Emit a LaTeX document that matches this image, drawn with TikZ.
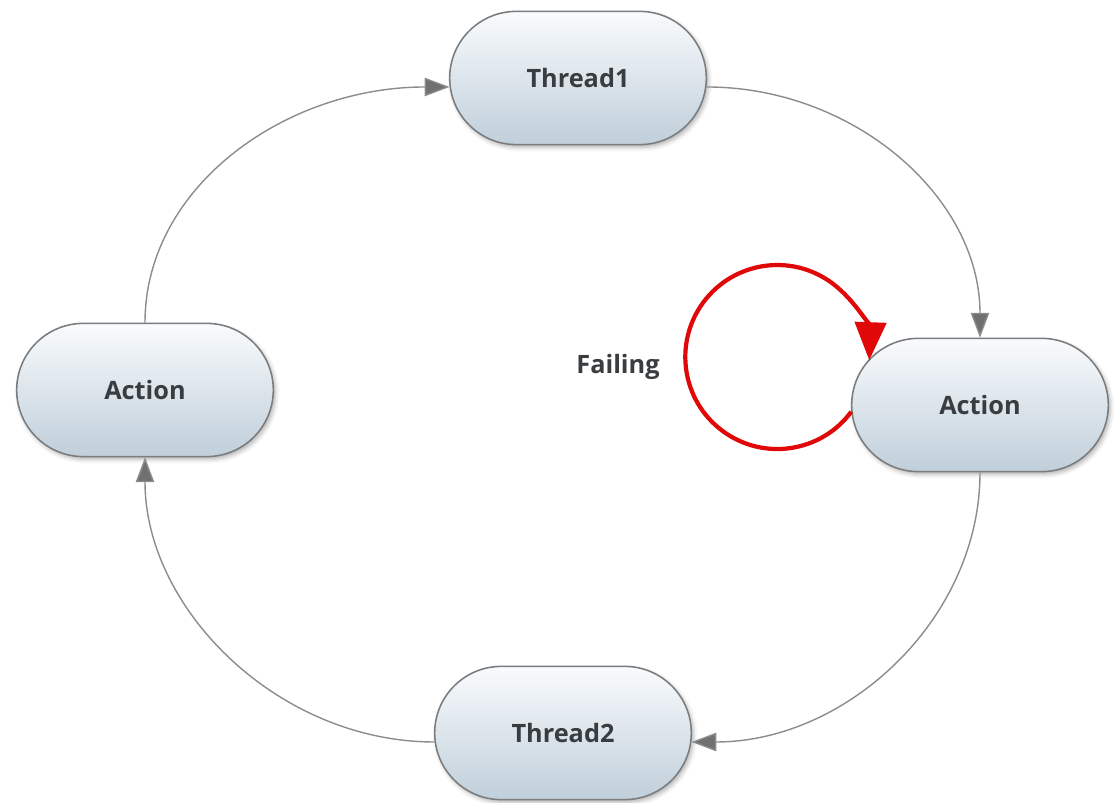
\documentclass[tikz,border=0pt]{standalone}
\usepackage{fontspec}
\setmainfont{Open Sans}
\usetikzlibrary{shapes.misc,arrows.meta,shadows.blur}
\definecolor{capTop}{HTML}{F9FBFD}
\definecolor{capBot}{HTML}{C0CFDA}
\definecolor{capRim}{HTML}{7A7C7E}
\definecolor{inkDark}{HTML}{3A3D40}
\definecolor{wireGrey}{HTML}{8C8C8C}
\definecolor{tipGrey}{HTML}{707070}
\definecolor{failRed}{HTML}{E00808}

\begin{document}
\begin{tikzpicture}[
    font=\fontsize{18}{22}\selectfont\bfseries,
    % glossy capsule: white on top fading to a pale steel blue, thin grey rim, soft shadow
    capsule/.style={rounded rectangle, draw=capRim, line width=1.1pt,
                    top color=capTop, bottom color=capBot, text=inkDark,
                    minimum width=6.65cm, minimum height=3.33cm,
                    blur shadow={shadow xshift=1.5pt, shadow yshift=-2pt,
                                 shadow opacity=30, shadow blur radius=3pt}},
    % the cycle itself: thin grey curves
    wire/.style={line width=1pt, draw=wireGrey,
                 -{Triangle[length=0.62cm, width=0.46cm, fill=tipGrey]}},
    % the retry loop stands out: thick red
    failloop/.style={line width=3pt, draw=failRed,
                     -{Triangle[length=0.95cm, width=0.78cm]}},
]
\useasboundingbox (0,0) rectangle (28,-20.075);

%================= the four stations of the cycle =================%
\node[capsule] (thread1) at (14.45,-1.95)   {Thread1};
\node[capsule] (actR)    at (24.5,-10.125)  {Action};
\node[capsule] (thread2) at (14.075,-18.325) {Thread2};
\node[capsule] (actL)    at (3.625,-9.75)   {Action};

%================= the cycle, clockwise =================%
\draw[wire] (actL.north) .. controls +(90:3.4) and +(180:4.1) .. (thread1.184);
\draw[wire] (thread1.356) .. controls +(0:3.7) and +(90:3.5) .. (actR.north);
\draw[wire] (actR.south) .. controls +(-90:3.65) and +(0:3.9) .. (thread2.356);
\draw[wire] (thread2.184) .. controls +(180:3.9) and +(-90:3.8) .. (actL.south);

%================= the failing retry loop =================%
\draw[failloop] (actR.183) arc[start angle=-36.5, end angle=-362, radius=2.3];
\node[text=inkDark] (failing) at (15.45,-9.175) {Failing};

\end{tikzpicture}
\end{document}
